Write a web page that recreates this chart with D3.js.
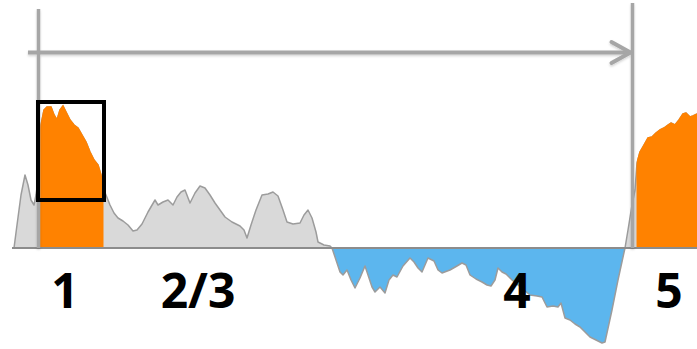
<!DOCTYPE html>
<html>
<head>
<meta charset="utf-8">
<script src="https://cdn.jsdelivr.net/npm/d3@7"></script>
<style>
  html, body { margin: 0; padding: 0; background: #fff; }
  svg { display: block; }
</style>
</head>
<body>
<svg id="chart" width="697" height="349"></svg>
<script>
// ---- data ----
const tValues = [12,14,17,21,25,28,31,34,36,38,39,41,44,47,51,54,57,60,63,66,70,74,78,82,86,90,94,98,101,103,
  106,110,114,118,123,128,133,137,142,148,155,158,163,168,173,177,181,185,190,195,200,205,210,215,220,225,232,240,244,247,
  251,256,262,268,273,278,283,287,293,300,304,308,312,316,318,324,330,332,
  336,340,343,347,351,355,360,365,368,372,375,380,385,389,393,397,403,410,414,418,422,428,434,438,442,450,457,462,466,470,
  476,482,487,491,495,498,502,506,512,518,524,530,537,542,547,553,558,561,565,570,575,580,585,590,596,602,605,612,618,625,
  628,632,635,637,640,644,648,652,656,660,664,668,671,675,679,683,686,690,693,697];
const values = [0,0,23,53,73,63,48,43,53,68,88,123,138,141,141,133,128,138,142,136,128,123,120,113,106,96,88,83,73,60,
  53,43,35,30,27,23,17,18,24,36,48,43,46,48,43,51,56,58,45,55,62,60,53,45,38,31,26,22,18,10,
  23,38,53,54,56,52,38,26,24,25,33,38,30,16,6,3,2,0,
  -12,-24,-27,-22,-32,-40,-30,-18,-27,-39,-44,-39,-45,-32,-27,-29,-18,-10,-14,-20,-24,-10,-13,-22,-25,-22,-18,-15,-17,-27,
  -31,-34,-37,-38,-32,-20,-24,-26,-32,-37,-42,-47,-48,-49,-59,-58,-59,-55,-70,-72,-76,-79,-84,-89,-92,-95,-94,-62,-32,0,
  18,43,58,85,96,103,110,111,115,118,120,123,125,123,128,134,135,131,132,134];
const highlightRanges = [[38.5, 103.5], [636.5, 697]];
const periodLabels = ["1", "2/3", "4", "5"];
const labelPositions = [65, 198, 517, 669];
const windowStart = 38.5, windowEnd = 632.5;

// ---- scales ----
const W = 697, H = 349;
const x = d3.scaleLinear().domain([0, 697]).range([0, 697]);
const y = d3.scaleLinear().domain([-101, 248]).range([349, 0]);
const data = tValues.map((t, i) => ({t, v: values[i]}));

const svg = d3.select("#chart");
const defs = svg.append("defs");

defs.append("clipPath").attr("id", "negClip")
  .append("rect").attr("x", 0).attr("y", y(0)).attr("width", W).attr("height", H - y(0));
const hc = defs.append("clipPath").attr("id", "hiClip");
highlightRanges.forEach(r => {
  hc.append("rect").attr("x", x(r[0])).attr("y", 0).attr("width", x(r[1]) - x(r[0])).attr("height", y(0) - 0.5);
});
const f = defs.append("filter").attr("id", "shadow").attr("x", "-5%").attr("y", "-50%").attr("width", "110%").attr("height", "200%");
f.append("feDropShadow").attr("dx", 0).attr("dy", 1.5).attr("stdDeviation", 1.2).attr("flood-color", "#000").attr("flood-opacity", 0.18);

const area = d3.area().x(d => x(d.t)).y0(y(0)).y1(d => y(d.v)).curve(d3.curveLinear);
const line = d3.line().x(d => x(d.t)).y(d => y(d.v));

// gray area
svg.append("path").datum(data).attr("d", area).attr("fill", "#d9d9d9");
// blue (negative) area
svg.append("path").datum(data).attr("d", area).attr("fill", "#5cb6ee").attr("clip-path", "url(#negClip)");
// outline
svg.append("path").datum(data).attr("d", line).attr("fill", "none")
  .attr("stroke", "#9c9c9c").attr("stroke-width", 1.5).attr("stroke-linejoin", "round");
// orange highlighted periods
svg.append("path").datum(data).attr("d", area).attr("fill", "#ff8200")
  .attr("stroke", "#ff8200").attr("stroke-width", 1.5).attr("clip-path", "url(#hiClip)");

// baseline
svg.append("line").attr("x1", x(12)).attr("x2", x(697)).attr("y1", y(0)).attr("y2", y(0))
  .attr("stroke", "#8c8c8c").attr("stroke-width", 2);

// window markers
const g = svg.append("g").attr("filter", "url(#shadow)");
g.append("line").attr("x1", x(windowStart)).attr("x2", x(windowStart)).attr("y1", 9).attr("y2", y(0))
  .attr("stroke", "#a6a6a6").attr("stroke-width", 3.5);
g.append("line").attr("x1", x(windowEnd)).attr("x2", x(windowEnd)).attr("y1", 3).attr("y2", y(0))
  .attr("stroke", "#a6a6a6").attr("stroke-width", 3.5);
g.append("line").attr("x1", 28).attr("x2", x(windowEnd) - 2).attr("y1", 52.5).attr("y2", 52.5)
  .attr("stroke", "#a6a6a6").attr("stroke-width", 4);
g.append("polyline")
  .attr("points", `${x(windowEnd) - 21},42 ${x(windowEnd) - 2},52.5 ${x(windowEnd) - 21},63`)
  .attr("fill", "none").attr("stroke", "#a6a6a6").attr("stroke-width", 4).attr("stroke-linecap", "round")
  .attr("stroke-linejoin", "round");

// highlight box
svg.append("rect").attr("x", 38).attr("y", 102).attr("width", 66).attr("height", 98)
  .attr("fill", "none").attr("stroke", "#000").attr("stroke-width", 4);

// labels
svg.selectAll("text.lbl").data(periodLabels).join("text")
  .attr("class", "lbl")
  .attr("x", (d, i) => x(labelPositions[i]))
  .attr("y", 308)
  .attr("text-anchor", "middle")
  .attr("font-family", "'Open Sans', Lato, sans-serif")
  .attr("font-weight", "700")
  .attr("font-size", 48)
  .attr("fill", "#000")
  .text(d => d);
</script>
</body>
</html>
